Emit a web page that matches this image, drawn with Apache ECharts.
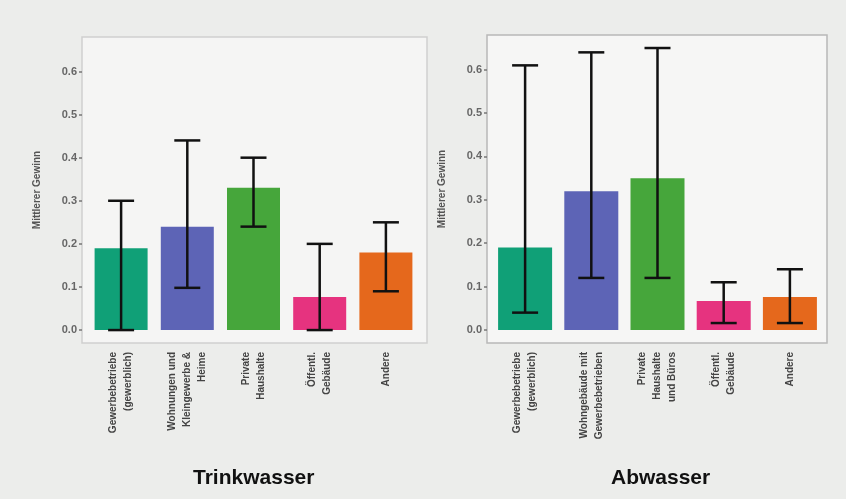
<!DOCTYPE html>
<html><head><meta charset="utf-8">
<script src="https://cdn.jsdelivr.net/npm/echarts@6/dist/echarts.min.js"></script>
<style>html,body{margin:0;padding:0;background:#ecedeb;}#c{width:846px;height:499px;}</style>
</head><body><div id="c"></div>
<script>
const catsTrink = ["Gewerbebetriebe\n(gewerblich)", "Wohnungen und\nKleingewerbe &\nHeime", "Private\nHaushalte", "Öffentl.\nGebäude", "Andere"];
const catsAbw = ["Gewerbebetriebe\n(gewerblich)", "Wohngebäude mit\nGewerbebetrieben", "Private\nHaushalte\nund Büros", "Öffentl.\nGebäude", "Andere"];
const meanTrink = [0.19, 0.24, 0.33, 0.077, 0.18];
const lowTrink = [0.0, 0.098, 0.24, 0.0, 0.09];
const highTrink = [0.30, 0.44, 0.40, 0.20, 0.25];
const meanAbw = [0.19, 0.32, 0.35, 0.067, 0.076];
const lowAbw = [0.04, 0.12, 0.12, 0.016, 0.016];
const highAbw = [0.61, 0.64, 0.65, 0.11, 0.14];
const tickVals = [0, 0.1, 0.2, 0.3, 0.4, 0.5, 0.6];
const colors = ["#10a077", "#5d64b6", "#46a63b", "#e6337f", "#e5681c"];
const yName = "Mittlerer Gewinn";

const chart = echarts.init(document.getElementById('c'));
function errItem(params, api) {
  const x = api.coord([api.value(0), 0])[0];
  const lo = api.coord([api.value(0), api.value(1)])[1];
  const hi = api.coord([api.value(0), api.value(2)])[1];
  const hw = 13;
  const st = {stroke: '#111', lineWidth: 2.5};
  return {type: 'group', children: [
    {type: 'line', shape: {x1: x, y1: lo, x2: x, y2: hi}, style: st},
    {type: 'line', shape: {x1: x - hw, y1: lo, x2: x + hw, y2: lo}, style: st},
    {type: 'line', shape: {x1: x - hw, y1: hi, x2: x + hw, y2: hi}, style: st}
  ]};
}
function yAx(gi) {
  return {
    type: 'value', gridIndex: gi, min: -0.03, max: 0.68, offset: gi === 0 ? 6 : 5,
    name: yName, nameLocation: 'middle', nameGap: 40, nameRotate: 90,
    nameTextStyle: {fontSize: 10, fontWeight: 'bold', color: '#555', fontFamily: 'Liberation Sans'},
    splitLine: {show: false},
    axisLine: {show: false},
    axisTick: {show: true, length: 3, lineStyle: {color: '#777', width: 1.5}, customValues: tickVals},
    axisLabel: {fontSize: 11, fontWeight: 'bold', color: '#666', fontFamily: 'Liberation Sans', margin: 5,
      customValues: tickVals, formatter: v => v.toFixed(1)}
  };
}
function xAx(gi, cats) {
  return {
    type: 'category', gridIndex: gi, data: cats,
    axisLine: {show: false}, axisTick: {show: false},
    axisLabel: {rotate: 90, fontSize: 10, fontWeight: 'bold', lineHeight: 15, color: '#444', fontFamily: 'Liberation Sans', margin: 9, interval: 0}
  };
}
function barData(vals) {
  return vals.map((v, i) => ({value: v, itemStyle: {color: colors[i]}}));
}
function errData(lo, hi) {
  return lo.map((l, i) => [i, l, hi[i]]);
}
chart.setOption({
  animation: false,
  backgroundColor: '#ecedeb',
  graphic: [
    {type: 'rect', z: -10, shape: {x: 82, y: 37, width: 345, height: 306}, style: {fill: '#f5f5f4', stroke: '#cfd0cf', lineWidth: 1.5}},
    {type: 'rect', z: -10, shape: {x: 487, y: 35, width: 340, height: 308}, style: {fill: '#f6f6f5', stroke: '#b8b8b8', lineWidth: 1.5}},
    {type: 'text', left: 193, top: 468, style: {text: 'Trinkwasser', font: 'bold 21px "Liberation Sans"', fill: '#111'}},
    {type: 'text', left: 611, top: 468, style: {text: 'Abwasser', font: 'bold 21px "Liberation Sans"', fill: '#111'}}
  ],
  grid: [
    {left: 88, top: 37, width: 331, height: 306},
    {left: 492, top: 35, width: 331, height: 308}
  ],
  xAxis: [xAx(0, catsTrink), xAx(1, catsAbw)],
  yAxis: [yAx(0), yAx(1)],
  series: [
    {type: 'bar', xAxisIndex: 0, yAxisIndex: 0, data: barData(meanTrink), barWidth: 53},
    {type: 'custom', xAxisIndex: 0, yAxisIndex: 0, data: errData(lowTrink, highTrink), renderItem: errItem, z: 5},
    {type: 'bar', xAxisIndex: 1, yAxisIndex: 1, data: barData(meanAbw), barWidth: 54},
    {type: 'custom', xAxisIndex: 1, yAxisIndex: 1, data: errData(lowAbw, highAbw), renderItem: errItem, z: 5}
  ]
});
</script></body></html>
